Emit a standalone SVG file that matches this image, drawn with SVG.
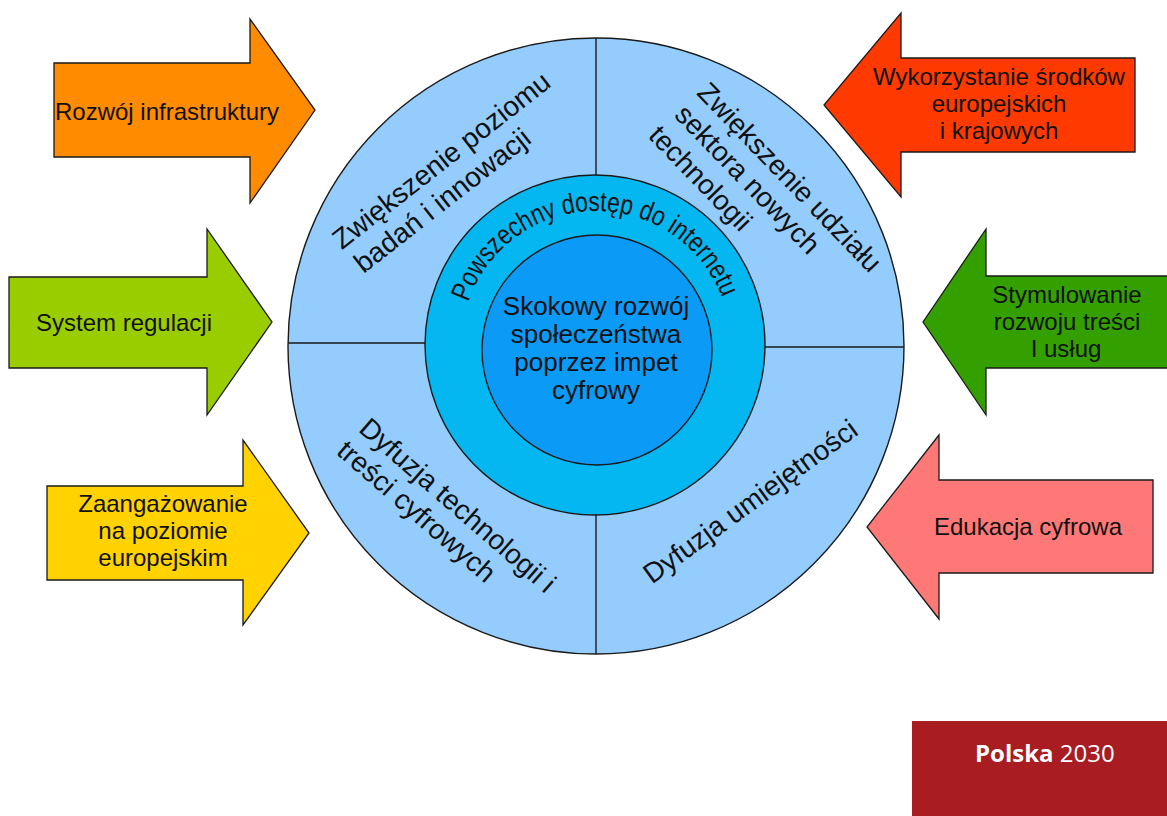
<svg xmlns="http://www.w3.org/2000/svg" width="1167" height="816" viewBox="0 0 1167 816">
<style>
.arr{stroke:#1a1a1a;stroke-width:1.3;stroke-linejoin:miter}
.ring{stroke:#1a1a1a;stroke-width:1.4}
.t{font-family:"Liberation Sans",Arial,sans-serif;fill:#111;text-anchor:middle}
.a{font-size:24px}
.q{font-size:28px}
.c{font-size:26px}
.div{stroke:#1a1a1a;stroke-width:1.4;fill:none}
</style>
<defs>
<path id="arcPath" d="M467.6,304.3 A135,135 0 0 1 722.9,299.8"/>
</defs>
<rect width="1167" height="816" fill="#ffffff"/>

<g id="arrow-infrastruktura">
<polygon class="arr" fill="#FF8C00" points="54,63 250,63 250,19 315,110 250,203 250,157 54,157"/>
<text class="t a" x="167" y="120">Rozwój infrastruktury</text>
</g>
<g id="arrow-regulacja">
<polygon class="arr" fill="#9ACD00" points="9,277 207,277 207,229 272,322 207,415 207,368 9,368"/>
<text class="t a" x="124" y="331">System regulacji</text>
</g>
<g id="arrow-zaangazowanie">
<polygon class="arr" fill="#FFD200" points="47,486 243,486 243,440 309,533 243,625 243,580 47,580"/>
<text class="t a" x="163" y="512">Zaangażowanie</text>
<text class="t a" x="163" y="539">na poziomie</text>
<text class="t a" x="163" y="566">europejskim</text>
</g>
<g id="arrow-srodki">
<polygon class="arr" fill="#FF3A00" points="1135,58 901,58 901,13 824,105 901,197 901,152 1135,152"/>
<text class="t a" x="999" y="85">Wykorzystanie środków</text>
<text class="t a" x="999" y="112">europejskich</text>
<text class="t a" x="999" y="139">i krajowych</text>
</g>
<g id="arrow-stymulowanie">
<polygon class="arr" fill="#33A000" points="1170,276 986,276 986,229 923,322 986,415 986,368 1170,368"/>
<text class="t a" x="1067" y="303">Stymulowanie</text>
<text class="t a" x="1067" y="330">rozwoju treści</text>
<text class="t a" x="1066" y="357">I usług</text>
</g>
<g id="arrow-edukacja">
<polygon class="arr" fill="#FF7878" points="1153,480 939,480 939,435 867,527 939,619 939,573 1153,573"/>
<text class="t a" x="1028" y="535">Edukacja cyfrowa</text>
</g>

<g id="outer-ring">
<circle class="ring" cx="596" cy="346" r="308" fill="#94CCFE"/>
</g>
<g id="dividers">
<line class="div" x1="596" y1="38" x2="596" y2="176"/>
<line class="div" x1="596" y1="514" x2="596" y2="654"/>
<line class="div" x1="288" y1="343" x2="426" y2="343"/>
<line class="div" x1="764" y1="347" x2="904" y2="347"/>
</g>
<g id="q-badania">
<text class="t q" transform="translate(441,160) rotate(-38)" y="10">Zwiększenie poziomu</text>
<text class="t q" transform="translate(442,200) rotate(-38)" y="10">badań i innowacji</text>
</g>
<g id="q-sektor">
<text class="t q" transform="translate(790,177) rotate(46)" y="10">Zwiększenie udziału</text>
<text class="t q" transform="translate(748,179) rotate(46)" y="10">sektora nowych</text>
<text class="t q" transform="translate(701,178) rotate(46)" y="10">technologii</text>
</g>
<g id="q-dyfuzja-tech">
<text class="t q" transform="translate(458,505) rotate(41)" y="10">Dyfuzja technologii i</text>
<text class="t q" transform="translate(417,511) rotate(41)" y="10">treści cyfrowych</text>
</g>
<g id="q-dyfuzja-umiej">
<text class="t q" transform="translate(750,501) rotate(-36)" y="10">Dyfuzja umiejętności</text>
</g>
<g id="middle-ring">
<circle class="ring" cx="595" cy="345" r="170" fill="#05B7F0"/>
<text class="t" font-size="28"><textPath href="#arcPath" startOffset="50%" textLength="330" lengthAdjust="spacingAndGlyphs">Powszechny dostęp do internetu</textPath></text>
</g>
<g id="center">
<circle class="ring" cx="597" cy="350" r="115" fill="#0B9AF6"/>
<text class="t c" x="596" y="315">Skokowy rozwój</text>
<text class="t c" x="596" y="343">społeczeństwa</text>
<text class="t c" x="596" y="371">poprzez impet</text>
<text class="t c" x="596" y="399">cyfrowy</text>
</g>

<g id="logo">
<rect x="912" y="721" width="255" height="95" fill="#A81C22"/>
<text x="975" y="762" font-family="'Open Sans','Noto Sans',sans-serif" font-size="24" fill="#ffffff"><tspan font-weight="bold">Polska</tspan> 2030</text>
</g>
</svg>
